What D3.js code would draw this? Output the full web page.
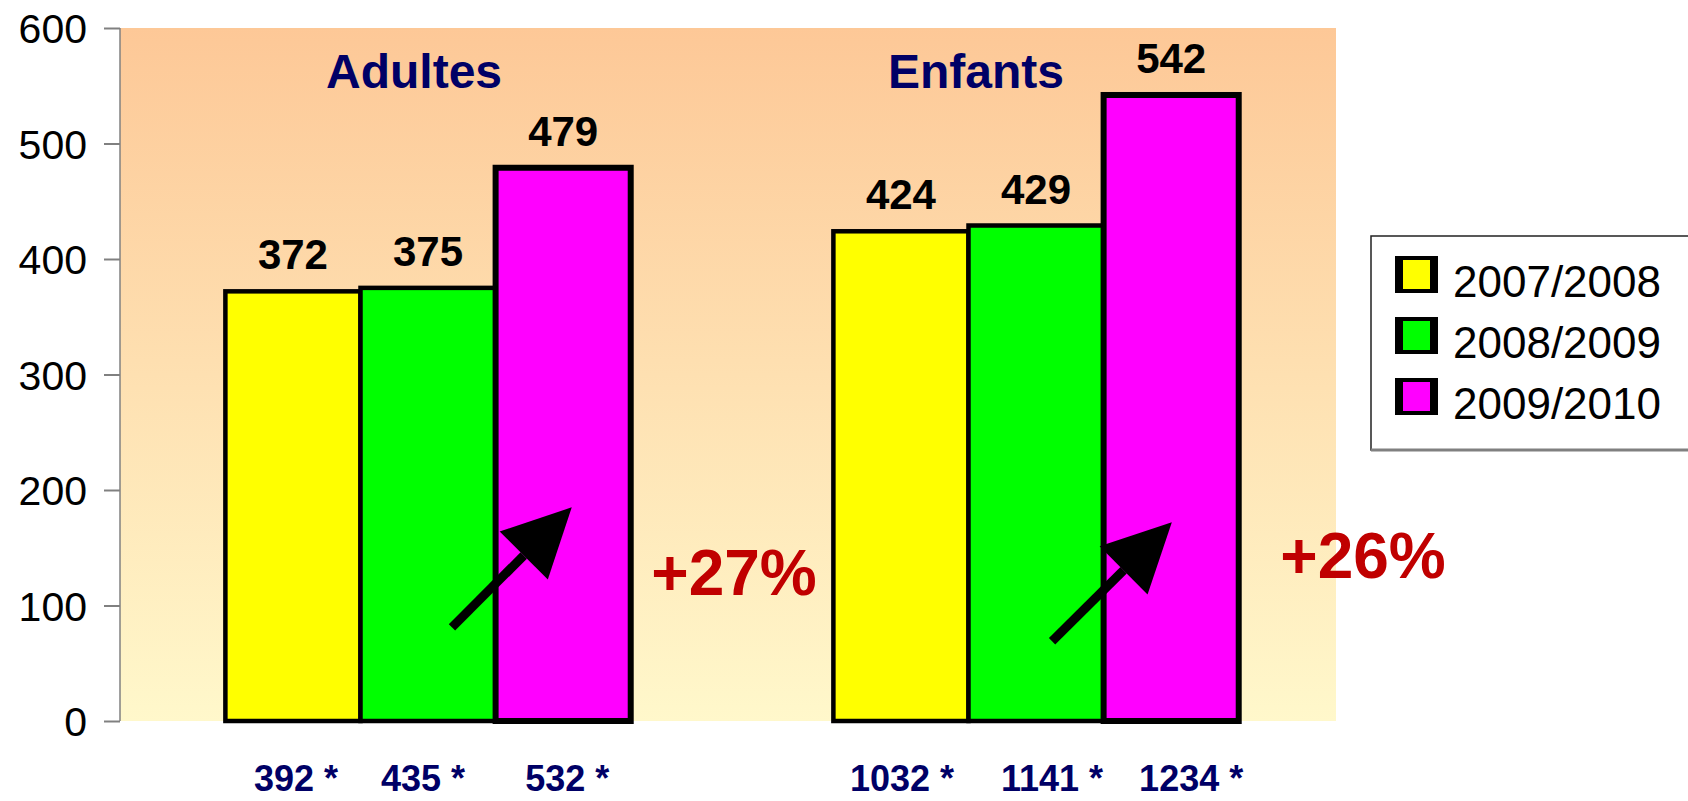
<!DOCTYPE html>
<meta charset="utf-8">
<script src="https://d3js.org/d3.v7.min.js"></script>
<style>
  body { margin: 0; background: #fff; }
  text { font-family: "Liberation Sans", Arial, sans-serif; }
</style>
<svg id="chart" width="1688" height="801"></svg>
<script>

// data
var groups = ["Adultes", "Enfants"];
var seasons = ["2007/2008", "2008/2009", "2009/2010"];
var adultes = [372, 375, 479];
var enfants = [424, 429, 542];
var totalsAdultes = ["392 *", "435 *", "532 *"];
var totalsEnfants = ["1032 *", "1141 *", "1234 *"];
var growth = ["+27%", "+26%"];
var yTicks = [0, 100, 200, 300, 400, 500, 600];
var colors = ["#ffff00", "#00ff00", "#ff00ff"];

var values = [adultes, enfants];
var totals = [totalsAdultes, totalsEnfants];

var svg = d3.select("#chart");

var margin = {left: 120, right: 352, top: 28, bottom: 80};
var width = 1688 - margin.left - margin.right,
    height = 801 - margin.top - margin.bottom;

var g = svg.append("g").attr("transform", "translate(" + margin.left + "," + margin.top + ")");

var y = d3.scaleLinear().domain([0, 600]).range([height, 0]);
var x0 = d3.scaleBand().domain(groups).range([0, width]);
var x1 = d3.scaleBand().domain(seasons).range([0, x0.bandwidth()]).paddingOuter(0.75).align(0.52);

// background gradient
var defs = svg.append("defs");
var grad = defs.append("linearGradient").attr("id", "bg").attr("x1", 0).attr("y1", 0).attr("x2", 0).attr("y2", 1);
grad.append("stop").attr("offset", "0%").attr("stop-color", "#fdc897");
grad.append("stop").attr("offset", "100%").attr("stop-color", "#fff8cb");

g.append("rect")
  .attr("x", 0).attr("y", y(600))
  .attr("width", width).attr("height", y(0) - y(600))
  .attr("fill", "url(#bg)");

// y axis
var yAxis = g.append("g")
  .call(d3.axisLeft(y).tickValues(yTicks).tickSize(16).tickPadding(17));
yAxis.select(".domain").attr("stroke", "#808080").attr("stroke-width", 1.5).attr("d", "M0," + y(600) + "V" + y(0));
yAxis.selectAll(".tick line").attr("stroke", "#808080").attr("stroke-width", 2);
yAxis.selectAll(".tick text").attr("fill", "#000").style("font-size", "41px").attr("dy", "0.36em");

// bars
var rows = groups.map(function(gr, i) {
  return seasons.map(function(s, j) {
    return {group: gr, gi: i, season: s, value: values[i][j], total: totals[i][j], idx: j};
  });
});

var grp = g.selectAll(".grp").data(rows).enter().append("g")
  .attr("class", "grp")
  .attr("transform", function(d, i) { return "translate(" + x0(groups[i]) + ",0)"; });

grp.selectAll("rect").data(function(d) { return d; }).enter().append("rect")
  .attr("x", function(d) { return x1(d.season); })
  .attr("y", function(d) { return y(d.value); })
  .attr("width", x1.bandwidth())
  .attr("height", function(d) { return y(0) - y(d.value); })
  .attr("fill", function(d) { return colors[d.idx]; })
  .attr("stroke", "#000")
  .attr("stroke-width", function(d) { return d.idx == 2 ? 6 : 4.5; });

// value labels
grp.selectAll(".val").data(function(d) { return d; }).enter().append("text")
  .attr("class", "val")
  .attr("x", function(d) { return x1(d.season) + x1.bandwidth() / 2; })
  .attr("y", function(d) { return y(d.value) - 22; })
  .attr("text-anchor", "middle")
  .style("font-size", "42px").style("font-weight", "bold")
  .text(function(d) { return d.value; });

// totals under the bars
var totalShift = [[3, -5, 4], [1, 16, 20]];
grp.selectAll(".tot").data(function(d) { return d; }).enter().append("text")
  .attr("class", "tot")
  .attr("x", function(d) { return x1(d.season) + x1.bandwidth() / 2 + totalShift[d.gi][d.idx]; })
  .attr("y", y(0) + 70)
  .attr("text-anchor", "middle")
  .attr("fill", "#000066")
  .style("font-size", "36px").style("font-weight", "bold")
  .text(function(d) { return d.total; });

// group titles
var titleShift = [-14, -60];
g.selectAll(".title").data(groups).enter().append("text")
  .attr("class", "title")
  .attr("x", function(d, i) { return x0(d) + x1(seasons[1]) + x1.bandwidth() / 2 + titleShift[i]; })
  .attr("y", y(600) + 60)
  .attr("text-anchor", "middle")
  .attr("fill", "#000066")
  .style("font-size", "48px").style("font-weight", "bold")
  .text(function(d) { return d; });

// growth labels
var growthY = [109, 124];
var growthDx = [6, 27];
g.selectAll(".growth").data(growth).enter().append("text")
  .attr("class", "growth")
  .attr("x", function(d, i) { return x0(groups[i]) + x0.bandwidth() + growthDx[i]; })
  .attr("y", function(d, i) { return y(growthY[i]); })
  .attr("text-anchor", "middle")
  .attr("fill", "#c00000")
  .style("font-size", "64px").style("font-weight", "bold")
  .text(function(d) { return d; });

// arrows (x as fraction of group band, y in data units)
var arrows = [
  {group: "Adultes", fx0: 0.546, v0: 81, fx1: 0.743, v1: 185},
  {group: "Enfants", fx0: 0.533, v0: 69, fx1: 0.730, v1: 172}
];
arrows.forEach(function(a) {
  var xa = x0(a.group) + a.fx0 * x0.bandwidth(), ya = y(a.v0);
  var xb = x0(a.group) + a.fx1 * x0.bandwidth(), yb = y(a.v1);
  var ang = Math.atan2(yb - ya, xb - xa);
  var headL = 68, headW = 34;
  var bx = xb - headL * Math.cos(ang), by = yb - headL * Math.sin(ang);
  var px = -Math.sin(ang), py = Math.cos(ang);
  g.append("line")
    .attr("x1", xa).attr("y1", ya).attr("x2", bx).attr("y2", by)
    .attr("stroke", "#000").attr("stroke-width", 9);
  g.append("path")
    .attr("d", "M" + xb + "," + yb + "L" + (bx + px * headW) + "," + (by + py * headW) +
      "L" + (bx - px * headW) + "," + (by - py * headW) + "Z")
    .attr("fill", "#000");
});

// legend
var leg = svg.append("g").attr("transform", "translate(1371,236)");
leg.append("rect").attr("x", 0).attr("y", 0).attr("width", 400).attr("height", 214)
  .attr("fill", "#fff").attr("stroke", "#222").attr("stroke-width", 1.5);
leg.append("line").attr("x1", 0).attr("x2", 400).attr("y1", 214).attr("y2", 214)
  .attr("stroke", "#808080").attr("stroke-width", 3);

var item = leg.selectAll(".item").data(seasons).enter().append("g")
  .attr("class", "item")
  .attr("transform", function(d, i) { return "translate(24," + (20 + i * 61) + ")"; });
item.append("rect").attr("width", 43).attr("height", 37).attr("fill", "#000");
item.append("rect").attr("x", 8).attr("y", 4).attr("width", 27).attr("height", 29)
  .attr("fill", function(d, i) { return colors[i]; });
item.append("text").attr("x", 58).attr("y", 41)
  .style("font-size", "44px").attr("fill", "#000")
  .text(function(d) { return d; });

</script>
